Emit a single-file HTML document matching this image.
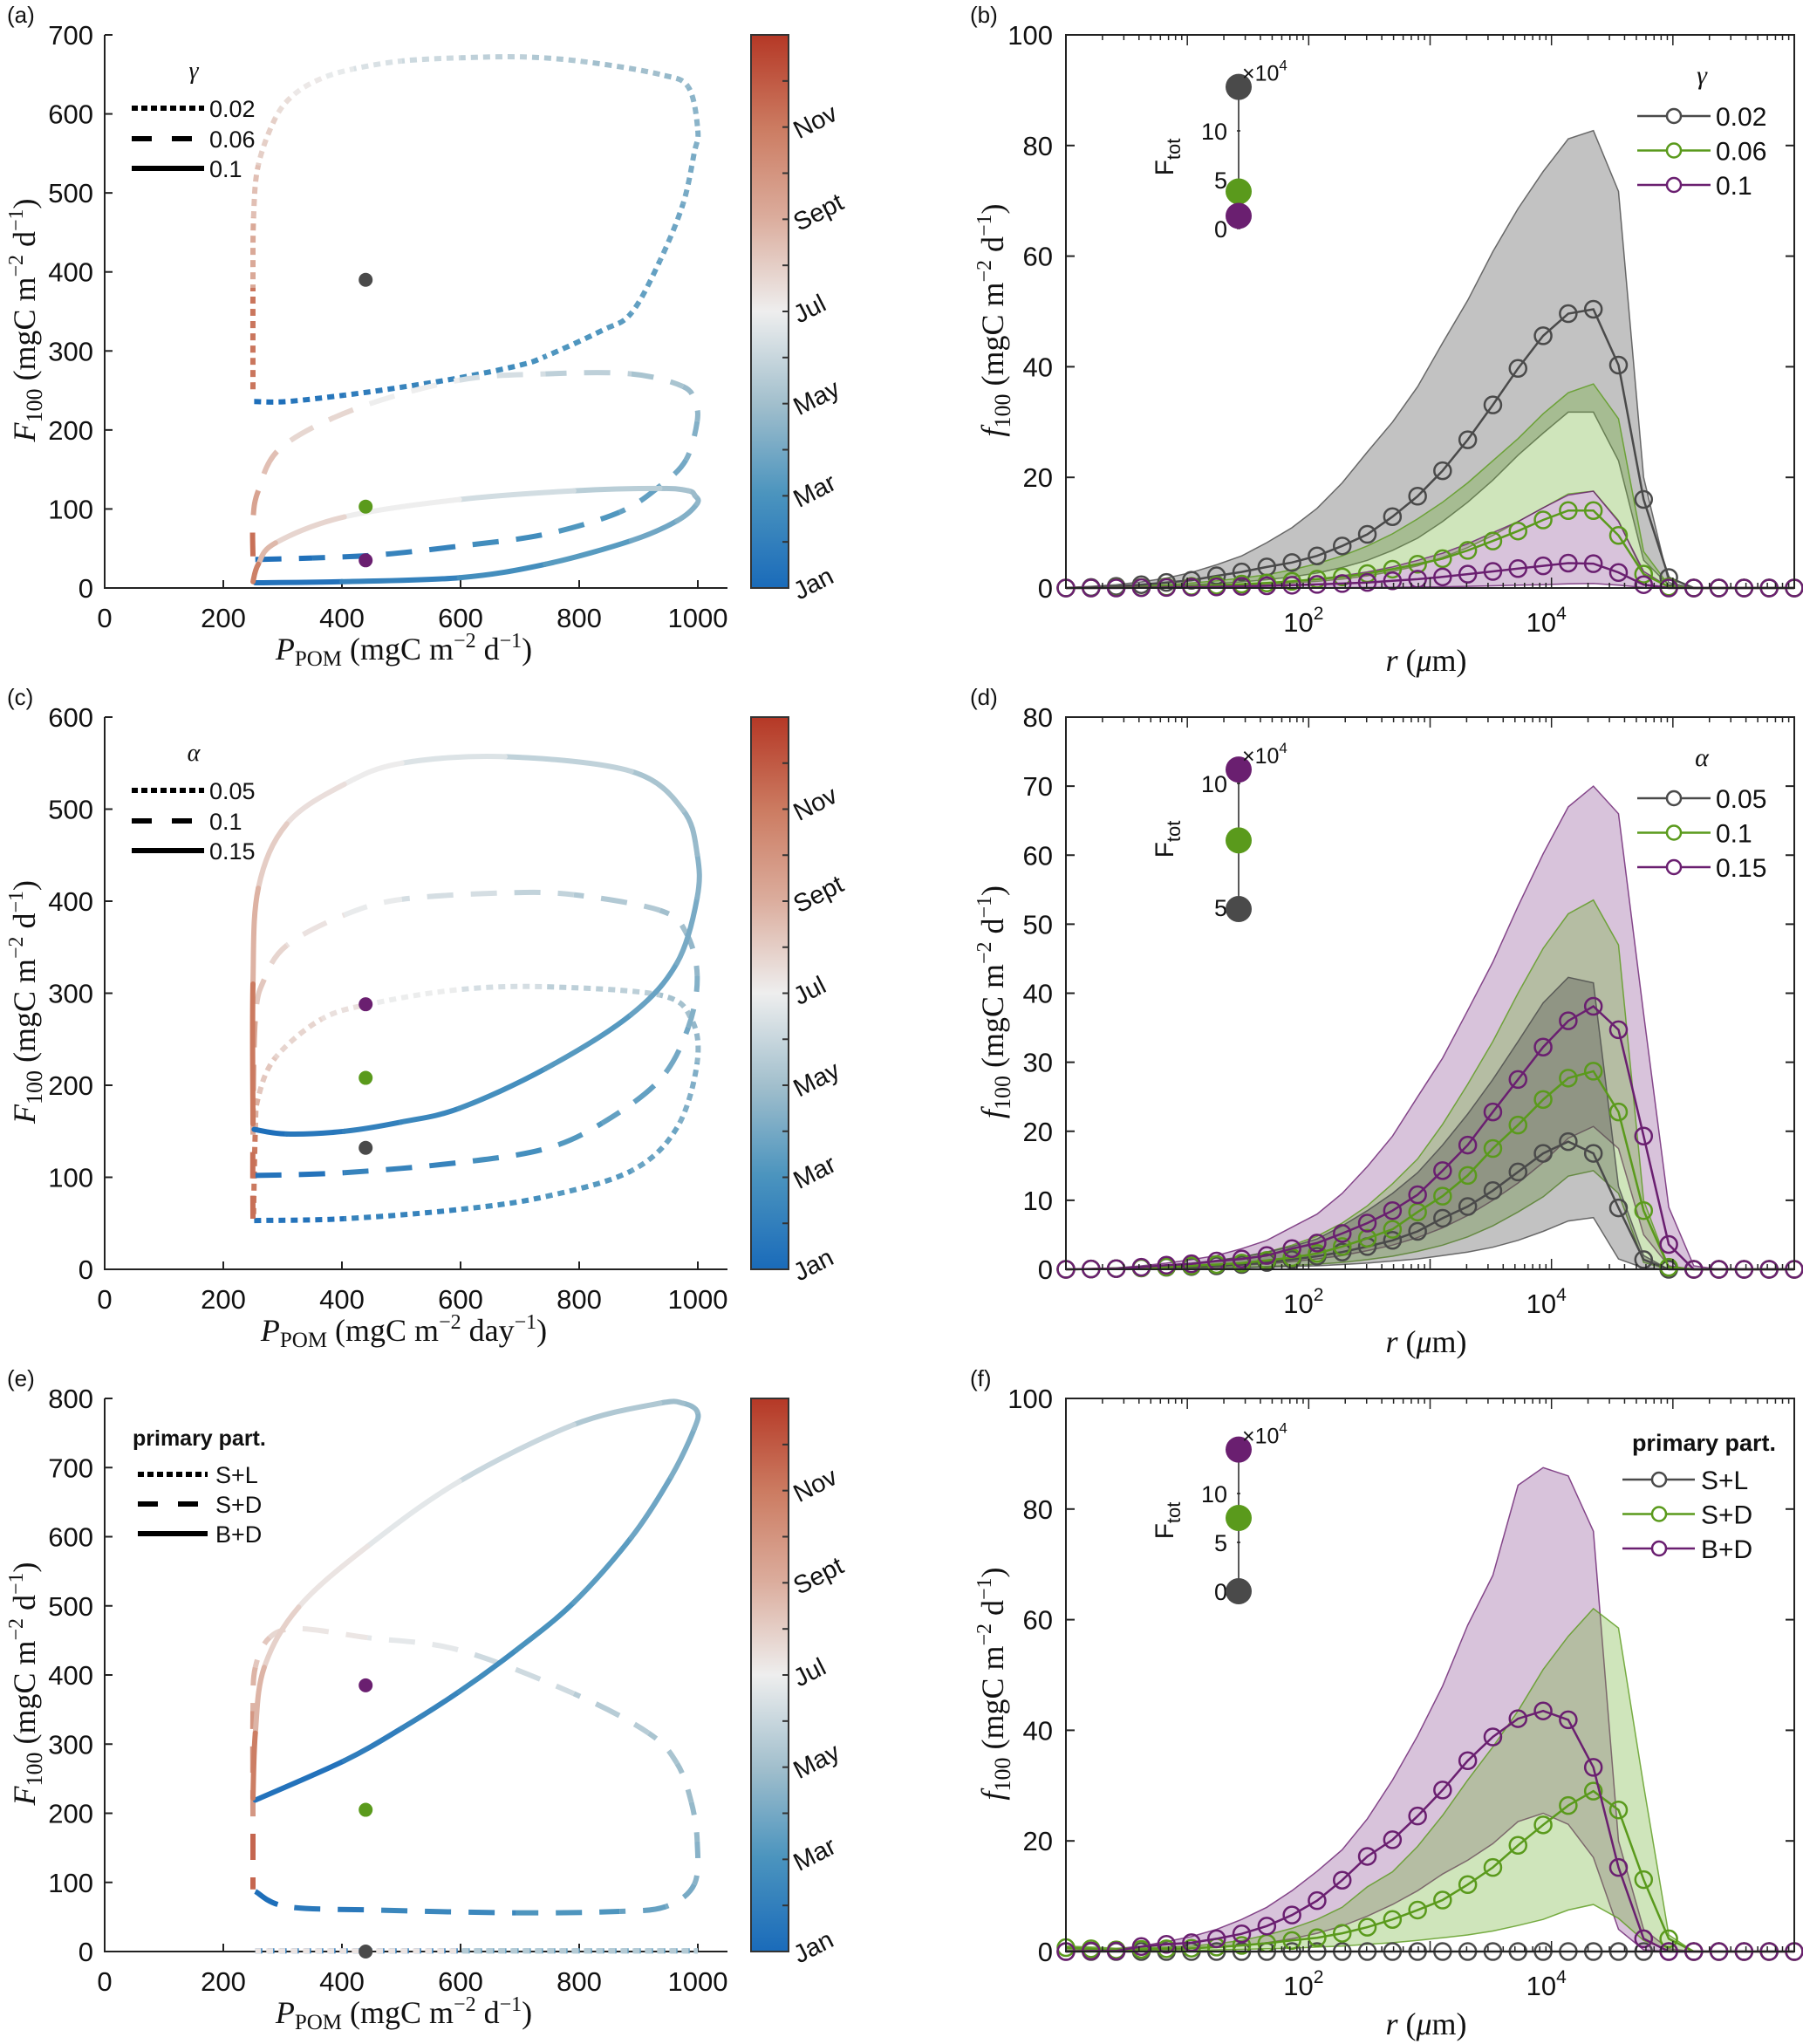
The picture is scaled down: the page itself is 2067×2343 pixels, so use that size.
<!DOCTYPE html>
<html><head><meta charset="utf-8">
<style>
html,body{margin:0;padding:0;background:#fff;}
svg{display:block;}
text{font-family:"Liberation Sans",Arial,sans-serif;fill:#111;}
.serif{font-family:"Liberation Serif","Times New Roman",serif;}
</style></head>
<body>
<svg id="fig" xmlns="http://www.w3.org/2000/svg" width="2067" height="2343" viewBox="0 0 2067 2343">
<defs>
<linearGradient id="cbgrad" x1="0" y1="1" x2="0" y2="0">
<stop offset="0" stop-color="#1a6bba"/><stop offset="0.17" stop-color="#4b94be"/><stop offset="0.33" stop-color="#a0becc"/><stop offset="0.5" stop-color="#eeeeee"/><stop offset="0.67" stop-color="#dbac9c"/><stop offset="0.83" stop-color="#cc7c62"/><stop offset="1" stop-color="#b53826"/>
</linearGradient>
</defs>
</svg>
<script>
// ---------- data: panel (a) gamma ----------
const a_dot_P=[252,307,404,500,598,700,743,839,888,936,975,994,1000,984,936,820,714,600,501,420,366,320,288,259,251,250,250];
const a_dot_F=[236,236,244,254,266,282,293,326,348,414,486,551,579,634,650,665,672,671,667,657,645,625,595,535,469,380,245];
const a_dot_T=[0,0.03,0.06,0.09,0.12,0.15,0.165,0.19,0.205,0.225,0.245,0.265,0.28,0.3,0.32,0.35,0.38,0.41,0.44,0.47,0.5,0.53,0.56,0.6,0.64,0.72,0.97];
const a_dash_P=[254,350,462,598,743,868,936,980,999,995,975,888,743,598,424,298,259,250,250];
const a_dash_F=[36,38,42,53,68,96,129,162,211,235,255,271,271,263,227,178,123,85,40];
const a_dash_T=[0,0.04,0.08,0.12,0.16,0.2,0.23,0.26,0.29,0.31,0.33,0.37,0.42,0.47,0.53,0.59,0.65,0.75,0.97];
const a_sol_P=[254,400,598,743,888,965,999,995,984,936,791,598,404,288,259,250];
const a_sol_F=[6.6,8,13,30,60,85,107,117,123,126,123,112,90,57,30,8];
const a_sol_T=[0,0.06,0.12,0.17,0.22,0.26,0.29,0.31,0.33,0.36,0.41,0.47,0.53,0.6,0.68,0.95];
const a_dots=[390,103,35];
// ---------- data: panel (c) alpha ----------
const c_dot_P=[252,404,598,743,888,965,999,989,936,743,598,453,366,288,259,254,251];
const c_dot_F=[53,55,65,79,107,154,225,272,298,307,304,289,272,230,187,150,60];
const c_dot_T=[0,0.07,0.13,0.17,0.21,0.25,0.29,0.32,0.36,0.42,0.47,0.52,0.55,0.58,0.62,0.7,0.97];
const c_dash_P=[254,404,598,743,839,936,984,999,980,936,791,675,501,404,307,269,254,250,250];
const c_dash_F=[102,105,116,131,159,206,263,319,366,390,407,409,402,385,352,315,272,145,55];
const c_dash_T=[0,0.07,0.13,0.17,0.2,0.23,0.26,0.29,0.32,0.35,0.39,0.42,0.47,0.51,0.55,0.58,0.62,0.75,0.97];
const c_sol_P=[252,307,404,500,598,743,888,965,999,999,975,888,675,501,404,307,259,250,250];
const c_sol_F=[152,147,150,160,175,218,277,333,404,451,499,541,557,550,527,484,414,310,158];
const c_sol_T=[0,0.03,0.07,0.1,0.13,0.17,0.21,0.24,0.27,0.3,0.33,0.37,0.43,0.49,0.52,0.56,0.61,0.7,0.97];
const c_dots=[132,208,288];
// ---------- data: panel (e) primary particles ----------
const e_dot_P=[254,600,1000,600,254];
const e_dot_F=[1,1,1,1,1];
const e_dot_T=[0,0.15,0.3,0.45,0.6];
const e_dash_P=[254,307,453,694,868,946,994,999,989,965,917,791,598,443,327,278,254,250,250,250];
const e_dash_F=[87,65,60,56,58,65,97,159,216,272,316,373,436,454,467,454,411,348,191,90];
const e_dash_T=[0,0.03,0.08,0.15,0.2,0.24,0.27,0.3,0.32,0.34,0.36,0.4,0.46,0.5,0.54,0.58,0.62,0.68,0.8,0.97];
const e_sol_P=[254,404,501,598,694,791,888,955,994,999,975,936,791,598,443,327,269,254,250];
const e_sol_F=[219,276,323,376,436,505,599,687,756,781,793,793,762,680,586,498,411,316,222];
const e_sol_T=[0,0.06,0.09,0.12,0.15,0.18,0.22,0.25,0.28,0.3,0.32,0.34,0.39,0.45,0.5,0.55,0.6,0.7,0.95];
const e_dots=[0,205,385];
const dotP=440;
// ---------- data: size spectra (log10 r) ----------
const rLog=[0,0.207,0.414,0.621,0.828,1.034,1.241,1.448,1.655,1.862,2.069,2.276,2.483,2.69,2.897,3.103,3.31,3.517,3.724,3.931,4.138,4.345,4.552,4.759,4.966,5.172,5.379,5.586,5.793,6];
const b_gray_m=[0,0.1,0.3,0.6,1.0,1.4,2.2,2.9,3.8,4.6,5.8,7.6,9.7,12.9,16.6,21.2,26.8,33.1,39.7,45.6,49.6,50.4,40.3,16,1.9,0,0,0,0,0];
const b_gray_u=[0.1,0.3,0.6,1.1,1.8,2.8,4.2,5.8,8.2,10.9,14.4,19,24.6,30,36.4,44.3,52,60.8,68.6,75.3,81.2,82.7,71.7,20,1,0,0,0,0,0];
const b_gray_l=[0,0.1,0.2,0.3,0.4,0.6,0.8,1.1,1.5,2,2.7,3.7,5,6.8,9,12,15.5,19.5,24,28,31.8,31.8,23,5,0.5,0,0,0,0,0];
const b_green_m=[0,0,0.05,0.1,0.2,0.3,0.5,0.7,0.9,1.2,1.6,2,2.6,3.4,4.3,5.3,6.8,8.5,10.3,12.3,14,14,9.5,2.5,0.2,0,0,0,0,0];
const b_green_u=[0,0.1,0.2,0.4,0.6,0.9,1.3,1.8,2.4,3.3,4.4,5.8,7.6,9.8,12.5,15.5,19,23,27,31.5,35.3,36.9,30.6,6.6,0.5,0,0,0,0,0];
const b_green_l=[0,0,0,0.05,0.1,0.2,0.3,0.45,0.6,0.9,1.2,1.6,2.2,3,4,5.5,7.3,9.5,12,14.5,17,17.5,12.2,2.5,0.2,0,0,0,0,0];
const b_purple_m=[0,0,0,0.05,0.1,0.15,0.2,0.3,0.4,0.5,0.65,0.8,1,1.3,1.6,2,2.5,3,3.5,4,4.5,4.4,2.8,0.6,0,0,0,0,0,0];
const b_purple_u=[0,0,0.05,0.1,0.2,0.3,0.45,0.65,0.9,1.2,1.6,2.2,2.9,3.8,5,6.3,8,10,12,14.5,16.8,17.5,12,3,0.2,0,0,0,0,0];
const b_purple_l=[0,0,0,0,0,0,0,0.02,0.03,0.04,0.05,0.07,0.1,0.13,0.17,0.22,0.3,0.4,0.5,0.6,0.75,0.8,0.5,0.1,0,0,0,0,0,0];
const b_ftot=[14.5,3.8,1.3];
const d_gray_m=[0,0.05,0.1,0.2,0.3,0.4,0.5,0.7,1.0,1.4,1.9,2.5,3.3,4.2,5.5,7.4,9.1,11.4,14.1,16.8,18.5,16.8,8.9,1.4,0,0,0,0,0,0];
const d_gray_u=[0,0.1,0.2,0.4,0.6,0.9,1.3,1.8,2.5,3.3,4.4,6.3,8.5,11,14,18,22.5,27.5,33,38.6,42.3,41.5,12,2,0,0,0,0,0,0];
const d_gray_l=[0,0,0,0,0.05,0.1,0.15,0.2,0.3,0.4,0.5,0.7,0.9,1.2,1.5,2,2.5,3.2,4.2,5.5,7,7.5,1.5,0.2,0,0,0,0,0,0];
const d_green_m=[0,0.05,0.1,0.2,0.35,0.5,0.7,0.9,1.3,1.7,2.3,3.3,4.5,5.8,8.3,10.6,13.6,17.5,20.9,24.6,27.7,28.7,22.8,8.5,0.3,0,0,0,0,0];
const d_green_u=[0,0.1,0.2,0.3,0.5,0.8,1.2,1.8,2.5,3.5,4.8,6.7,9.2,12.4,16,21,26.8,33,40,46.5,51.5,53.5,47,10,0.3,0,0,0,0,0];
const d_green_l=[0,0,0,0.05,0.1,0.15,0.2,0.3,0.4,0.55,0.75,1,1.4,1.9,2.6,3.5,4.7,6.3,8.3,10.5,13.5,14.3,11,1,0,0,0,0,0,0];
const d_purple_m=[0,0.05,0.1,0.3,0.6,0.8,1.2,1.5,2,3,3.8,5.2,6.7,8.5,10.8,14.3,18,22.8,27.5,32.2,36,38.1,34.7,19.3,3.6,0,0,0,0,0];
const d_purple_u=[0,0.1,0.2,0.5,0.9,1.4,2,3,4.2,6.1,8,11,14.9,19.3,25,30.6,37.5,44.5,52.6,60.2,67,70,66,37,9,0.5,0,0,0,0];
const d_purple_l=[0,0,0.05,0.1,0.2,0.3,0.4,0.6,0.8,1.1,1.5,2,2.7,3.5,4.6,6,7.8,10,12.5,15.5,19,20.7,17.5,5,0.5,0,0,0,0,0];
const d_ftot=[4.93,7.7,10.56];
const f_gray_m=[0,0,0,0,0,0,0,0,0,0,0,0,0,0,0,0,0,0,0,0,0,0,0,0,0,0,0,0,0,0];
const f_green_m=[0.7,0.5,0.3,0.4,0.5,0.6,0.8,1.1,1.5,2,2.5,3.3,4.4,5.8,7.5,9.3,12.1,15.2,19.2,22.9,26.4,29,25.6,13,2.3,0,0,0,0,0];
const f_green_u=[1,0.8,0.6,0.7,0.8,1,1.4,2,3,4.2,5.8,8,11.7,14.4,19,24.6,31,37,43.5,51,57,62,58.5,30,3,0,0,0,0,0];
const f_green_l=[0.3,0.2,0.1,0.1,0.1,0.2,0.3,0.4,0.5,0.6,0.8,1,1.3,1.6,2,2.5,3,3.7,4.7,5.8,7.5,8.5,6,2,0.2,0,0,0,0,0];
const f_purple_m=[0,0.1,0.1,0.9,1.3,1.6,2.3,3.2,4.6,6.6,9.2,12.9,17.2,20.2,24.5,29.2,34.5,38.8,42.1,43.5,41.9,33.3,15.2,2.3,0,0,0,0,0,0];
const f_purple_u=[0.3,0.3,0.5,1,1.8,2.7,4,5.8,8,11,14.5,18.4,24,31,39,48,59,68,84.3,87.5,86,76,20,4,0.5,0,0,0,0,0];
const f_purple_l=[0,0,0,0.2,0.3,0.5,0.8,1.1,1.6,2.3,3.3,4.6,6.4,8.5,11,14,16.5,19.5,23.5,25,23,17,4,0.3,0,0,0,0,0,0];
const f_ftot=[0,7.5,14.5];

const NS="http://www.w3.org/2000/svg";
const svg=document.getElementById('fig');
function mk(tag,attrs,parent){const e=document.createElementNS(NS,tag);for(const k in attrs)e.setAttribute(k,attrs[k]);(parent||svg).appendChild(e);return e;}
function tx(parent,x,y,s,size,anchor,extra){const t=mk('text',Object.assign({x:x,y:y,'font-size':size,'text-anchor':anchor||'middle'},extra||{}),parent);t.textContent=s;return t;}
const CM=[[0,[26,107,186]],[0.17,[75,148,190]],[0.33,[160,190,204]],[0.5,[238,238,238]],[0.67,[219,172,156]],[0.83,[204,124,98]],[1,[181,56,38]]];
function cmap(t){t=Math.max(0,Math.min(1,t));for(let i=1;i<CM.length;i++){if(t<=CM[i][0]){const a=CM[i-1],b=CM[i];const f=(t-a[0])/(b[0]-a[0]);const c=a[1].map((v,j)=>Math.round(v+(b[1][j]-v)*f));return 'rgb('+c.join(',')+')';}}return 'rgb(181,56,38)';}
const COL={gray:'#4a4a4a',green:'#5a9a1c',purple:'#6a1f70'};
const BAND={gray:'rgba(70,70,70,0.33)',green:'rgba(110,175,50,0.33)',purple:'rgba(125,55,135,0.3)'};
const ROWS=[{top:40,bot:674,base:0},{top:822,bot:1455,base:780},{top:1603,bot:2237,base:1563}];
const LX0=120,LX1=834,LXMAX=1050;
const RX0=1222,RX1=2057;
function lx(v){return LX0+v/LXMAX*(LX1-LX0);}
function rx(lg){return RX0+lg/6*(RX1-RX0);}
const DASH={dot:'8 6',dash:'30 20',sol:'none'};

function yLabel(g,x,y,sym,sub,unitMid){
  const t=mk('text',{x:0,y:0,'font-size':36,'text-anchor':'middle',class:'serif',transform:'translate('+x+','+y+') rotate(-90)'},g);
  const a=mk('tspan',{'font-style':'italic'},t);a.textContent=sym;
  const b=mk('tspan',{'font-size':26,dy:8},t);b.textContent=sub;
  const c=mk('tspan',{dy:-8},t);c.textContent='  (mgC m';
  const d=mk('tspan',{'font-size':24,dy:-14},t);d.textContent='\u22122';
  const e=mk('tspan',{dy:14},t);e.textContent=' '+unitMid;
  const f=mk('tspan',{'font-size':24,dy:-14},t);f.textContent='\u22121';
  const h=mk('tspan',{dy:14},t);h.textContent=')';
  return t;
}

function phasePanel(letter,row,ymax,ystep,series,dots,legTitle,legTitleBold,legLabels,xunit){
  const R=ROWS[row];
  const g=mk('g',{});
  
  
  const py=v=>R.bot-v/ymax*(R.bot-R.top);
  const pl=tx(g,8,R.top-14,'('+letter+')',26,'start');
  
  
  const ax=mk('path',{d:'M'+LX0+' '+R.top+' V'+R.bot+' H'+LX1,stroke:'#222','stroke-width':2,fill:'none'},g);
  
  
  for(let v=0;v<=ymax;v+=ystep){
    const y=py(v);
    mk('line',{x1:LX0,x2:LX0+9,y1:y,y2:y,stroke:'#222','stroke-width':2},g);
    const t=tx(g,107,y+11,String(v),31,'end');
    
    
  }
  for(let v=0;v<=1000;v+=200){
    const x=lx(v);
    mk('line',{x1:x,x2:x,y1:R.bot,y2:R.bot-9,stroke:'#222','stroke-width':2},g);
    const t=tx(g,x,R.bot+45,String(v),31,'middle');
    
    
  }
  const xl=mk('text',{x:463,y:R.bot+82,'font-size':36,'text-anchor':'middle',class:'serif'},g);
  
  
  const s1=mk('tspan',{'font-style':'italic'},xl);s1.textContent='P';
  const s2=mk('tspan',{'font-size':25,dy:7},xl);s2.textContent='POM';
  const s3=mk('tspan',{dy:-7},xl);s3.textContent=' (mgC m';
  const s4=mk('tspan',{'font-size':24,dy:-14},xl);s4.textContent='\u22122';
  const s5=mk('tspan',{dy:14},xl);s5.textContent=' '+xunit;
  const s6=mk('tspan',{'font-size':24,dy:-14},xl);s6.textContent='\u22121';
  const s7=mk('tspan',{dy:14},xl);s7.textContent=')';
  const yl=yLabel(g,40,(R.top+R.bot)/2+10,'F','100','d');
  
  
  series.forEach(s=>{
    const cg=mk('g',{},g);
    
    
    const pts=s.P.map((p,i)=>[lx(p),py(s.F[i])]);
    const n=pts.length;
    let cum=0;
    for(let i=0;i<n-1;i++){
      const p0=pts[Math.max(0,i-1)],p1=pts[i],p2=pts[i+1],p3=pts[Math.min(n-1,i+2)];
      const c1=[p1[0]+(p2[0]-p0[0])/6,p1[1]+(p2[1]-p0[1])/6];
      const c2=[p2[0]-(p3[0]-p1[0])/6,p2[1]-(p3[1]-p1[1])/6];
      const len=Math.hypot(c1[0]-p1[0],c1[1]-p1[1])+Math.hypot(c2[0]-c1[0],c2[1]-c1[1])+Math.hypot(p2[0]-c2[0],p2[1]-c2[1]);
      const chord=Math.hypot(p2[0]-p1[0],p2[1]-p1[1]);
      const d='M'+p1[0].toFixed(1)+' '+p1[1].toFixed(1)+' C'+c1[0].toFixed(1)+' '+c1[1].toFixed(1)+' '+c2[0].toFixed(1)+' '+c2[1].toFixed(1)+' '+p2[0].toFixed(1)+' '+p2[1].toFixed(1);
      const seg=mk('path',{d:d,fill:'none',stroke:cmap((s.T[i]+s.T[i+1])/2),'stroke-width':6,'stroke-linecap':s.style==='sol'?'round':'butt'},cg);
      if(s.style!=='sol'){seg.setAttribute('stroke-dasharray',DASH[s.style]);seg.setAttribute('stroke-dashoffset',cum.toFixed(1));}
      
      
      cum+=(len+chord)/2;
    }
  });
  ['gray','green','purple'].forEach((c,i)=>{
    const d=mk('circle',{cx:lx(dotP),cy:py(dots[i]),r:8,fill:COL[c]},g);
    
    
  });
  const lg=mk('g',{},g);
  
  
  if(legTitleBold){tx(lg,152,R.top+54,legTitle,25,'start',{'font-weight':'bold'});}
  else{tx(lg,222,R.top+50,legTitle,28,'middle',{class:'serif','font-style':'italic'});}
  const lx0=legTitleBold?158:151, lx1=legTitleBold?238:234, lab=legTitleBold?247:240;
  const offs=legTitleBold?[87,121,155]:[84,119,153];
  ['dot','dash','sol'].forEach((st,i)=>{
    const y=R.top+offs[i];
    const l=mk('line',{x1:lx0,x2:lx1,y1:y,y2:y,stroke:'#000','stroke-width':6},lg);
    if(st==='dot')l.setAttribute('stroke-dasharray','7 4');
    if(st==='dash')l.setAttribute('stroke-dasharray','23 23');
    
    
    const t=tx(lg,lab,y+10,legLabels[i],27,'start');
    
    
  });
  const cb=mk('rect',{x:861,y:R.top,width:43,height:R.bot-R.top,fill:'url(#cbgrad)',stroke:'#333','stroke-width':2},g);
  
  
  for(let k=1;k<12;k++){const y=R.bot-k/12*(R.bot-R.top);mk('line',{x1:897,x2:904,y1:y,y2:y,stroke:'#333','stroke-width':2},g);}
  ['Jan','Mar','May','Jul','Sept','Nov'].forEach((m,k)=>{
    const y=R.bot-k/6*(R.bot-R.top);
    const t=tx(g,0,0,m,29,'start',{transform:'translate(916,'+(y+14)+') rotate(-27)'});
    
    
  });
}

function specPanel(letter,row,ymax,ystep,order,bands,means,ftot,inset,legTitle,legBold,legLabels){
  const R=ROWS[row];
  const g=mk('g',{});
  
  
  const py=v=>R.bot-v/ymax*(R.bot-R.top);
  const pl=tx(g,1112,R.top-14,'('+letter+')',26,'start');
  
  
  order.forEach(c=>{
    const b=bands[c]; if(!b)return;
    let d='';
    for(let i=0;i<rLog.length;i++)d+=(i?'L':'M')+rx(rLog[i]).toFixed(1)+' '+py(b.u[i]).toFixed(1);
    for(let i=rLog.length-1;i>=0;i--)d+='L'+rx(rLog[i]).toFixed(1)+' '+py(b.l[i]).toFixed(1);
    const p=mk('path',{d:d+'Z',fill:BAND[c],stroke:COL[c],'stroke-width':1.5,'stroke-opacity':0.8},g);
    
    
  });
  ['gray','green','purple'].forEach(c=>{
    const m=means[c];
    const pts=rLog.map((lg,i)=>rx(lg).toFixed(1)+','+py(m[i]).toFixed(1)).join(' ');
    const pl2=mk('polyline',{points:pts,fill:'none',stroke:COL[c],'stroke-width':2.5},g);
    
    
    rLog.forEach((lg,i)=>{
      const ci=mk('circle',{cx:rx(lg),cy:py(m[i]),r:9.5,fill:'none',stroke:COL[c],'stroke-width':2.5},g);
      
      
    });
  });
  const bx=mk('rect',{x:RX0,y:R.top,width:RX1-RX0,height:R.bot-R.top,fill:'none',stroke:'#222','stroke-width':2},g);
  
  
  for(let v=0;v<=ymax;v+=ystep){
    const y=py(v);
    mk('line',{x1:RX0,x2:RX0+10,y1:y,y2:y,stroke:'#222','stroke-width':2},g);
    mk('line',{x1:RX1,x2:RX1-10,y1:y,y2:y,stroke:'#222','stroke-width':2},g);
    const t=tx(g,1207,y+11,String(v),31,'end');
    
    
  }
  for(let dec=0;dec<6;dec++){
    for(let k=1;k<10;k++){
      const x=rx(dec+Math.log10(k));const L=k===1?12:6;
      mk('line',{x1:x,x2:x,y1:R.bot,y2:R.bot-L,stroke:'#222','stroke-width':1.5},g);
      mk('line',{x1:x,x2:x,y1:R.top,y2:R.top+L,stroke:'#222','stroke-width':1.5},g);
    }
  }
  [2,4].forEach(p=>{
    const t=mk('text',{x:rx(p)-6,y:R.bot+50,'font-size':31,'text-anchor':'middle'},g);
    
    
    const a=mk('tspan',{},t);a.textContent='10';
    const b=mk('tspan',{'font-size':21,dy:-14},t);b.textContent=String(p);
  });
  const xl=mk('text',{x:1635,y:R.bot+95,'font-size':36,'text-anchor':'middle',class:'serif'},g);
  
  
  const x1=mk('tspan',{'font-style':'italic'},xl);x1.textContent='r';
  const x2=mk('tspan',{},xl);x2.textContent=' (';
  const x3=mk('tspan',{'font-style':'italic'},xl);x3.textContent='\u03bc';
  const x4=mk('tspan',{},xl);x4.textContent='m)';
  const yl=yLabel(g,1150,(R.top+R.bot)/2+10,'f','100','d');
  
  
  const ig=mk('g',{},g);
  
  
  const iy=v=>R.top+inset.v0-v*inset.k;
  const ys=ftot.map(iy);
  mk('line',{x1:1420,x2:1420,y1:Math.min(...ys),y2:Math.max(...ys),stroke:'#222','stroke-width':1.5},ig);
  inset.ticks.forEach(v=>{
    mk('line',{x1:1418,x2:1422,y1:iy(v),y2:iy(v),stroke:'#222','stroke-width':1.5},ig);
    const t=tx(ig,1407,iy(v)+10,String(v),27,'end');
    
    
  });
  ['gray','green','purple'].forEach((c,i)=>{
    const d=mk('circle',{cx:1420,cy:ys[i],r:15,fill:COL[c]},ig);
    
    
  });
  const topY=Math.min(...ys);
  const xt=mk('text',{x:1424,y:topY-7,'font-size':25,'text-anchor':'start'},ig);
  const xa=mk('tspan',{},xt);xa.textContent='\u00d710';
  const xb=mk('tspan',{'font-size':17,dy:-12},xt);xb.textContent='4';
  const ft=mk('text',{x:0,y:0,'font-size':30,'text-anchor':'middle',transform:'translate(1345,'+(R.top+140)+') rotate(-90)'},ig);
  
  
  const fa=mk('tspan',{},ft);fa.textContent='F';
  const fb=mk('tspan',{'font-size':22,dy:8},ft);fb.textContent='tot';
  const lg=mk('g',{},g);
  
  
  const L0=legBold?1860:1877,L1=legBold?1943:1961,LC=legBold?1902:1919,LT=legBold?1950:1967;
  if(legBold)tx(lg,2036,R.top+60,legTitle,27,'end',{'font-weight':'bold'});
  else tx(lg,1951,R.top+56,legTitle,30,'middle',{class:'serif','font-style':'italic'});
  ['gray','green','purple'].forEach((c,i)=>{
    const y=R.top+93+i*39.5;
    const l=mk('line',{x1:L0,x2:L1,y1:y,y2:y,stroke:COL[c],'stroke-width':2.5},lg);
    
    
    mk('circle',{cx:LC,cy:y,r:8,fill:'#fff',stroke:COL[c],'stroke-width':2.5},lg);
    const t=tx(lg,LT,y+11,legLabels[i],30,'start');
    
    
  });
}

phasePanel('a',0,700,100,[
  {name:'0.02',style:'dot',P:a_dot_P,F:a_dot_F,T:a_dot_T},
  {name:'0.06',style:'dash',P:a_dash_P,F:a_dash_F,T:a_dash_T},
  {name:'0.1',style:'sol',P:a_sol_P,F:a_sol_F,T:a_sol_T}],a_dots,'\u03b3',false,['0.02','0.06','0.1'],'d');
phasePanel('c',1,600,100,[
  {name:'0.05',style:'dot',P:c_dot_P,F:c_dot_F,T:c_dot_T},
  {name:'0.1',style:'dash',P:c_dash_P,F:c_dash_F,T:c_dash_T},
  {name:'0.15',style:'sol',P:c_sol_P,F:c_sol_F,T:c_sol_T}],c_dots,'\u03b1',false,['0.05','0.1','0.15'],'day');
phasePanel('e',2,800,100,[
  {name:'SL',style:'dot',P:e_dot_P,F:e_dot_F,T:e_dot_T},
  {name:'SD',style:'dash',P:e_dash_P,F:e_dash_F,T:e_dash_T},
  {name:'BD',style:'sol',P:e_sol_P,F:e_sol_F,T:e_sol_T}],e_dots,'primary part.',true,['S+L','S+D','B+D'],'d');

specPanel('b',0,100,20,['gray','green','purple'],
  {gray:{u:b_gray_u,l:b_gray_l},green:{u:b_green_u,l:b_green_l},purple:{u:b_purple_u,l:b_purple_l}},
  {gray:b_gray_m,green:b_green_m,purple:b_purple_m},b_ftot,{v0:222,k:11.2,ticks:[0,5,10]},'\u03b3',false,['0.02','0.06','0.1']);
specPanel('d',1,80,10,['purple','green','gray'],
  {gray:{u:d_gray_u,l:d_gray_l},green:{u:d_green_u,l:d_green_l},purple:{u:d_purple_u,l:d_purple_l}},
  {gray:d_gray_m,green:d_green_m,purple:d_purple_m},d_ftot,{v0:360,k:28.4,ticks:[5,10]},'\u03b1',false,['0.05','0.1','0.15']);
specPanel('f',2,100,20,['purple','green'],
  {green:{u:f_green_u,l:f_green_l},purple:{u:f_purple_u,l:f_purple_l}},
  {gray:f_gray_m,green:f_green_m,purple:f_purple_m},f_ftot,{v0:221,k:11.2,ticks:[0,5,10]},'primary part.',true,['S+L','S+D','B+D']);
</script>
</body></html>
